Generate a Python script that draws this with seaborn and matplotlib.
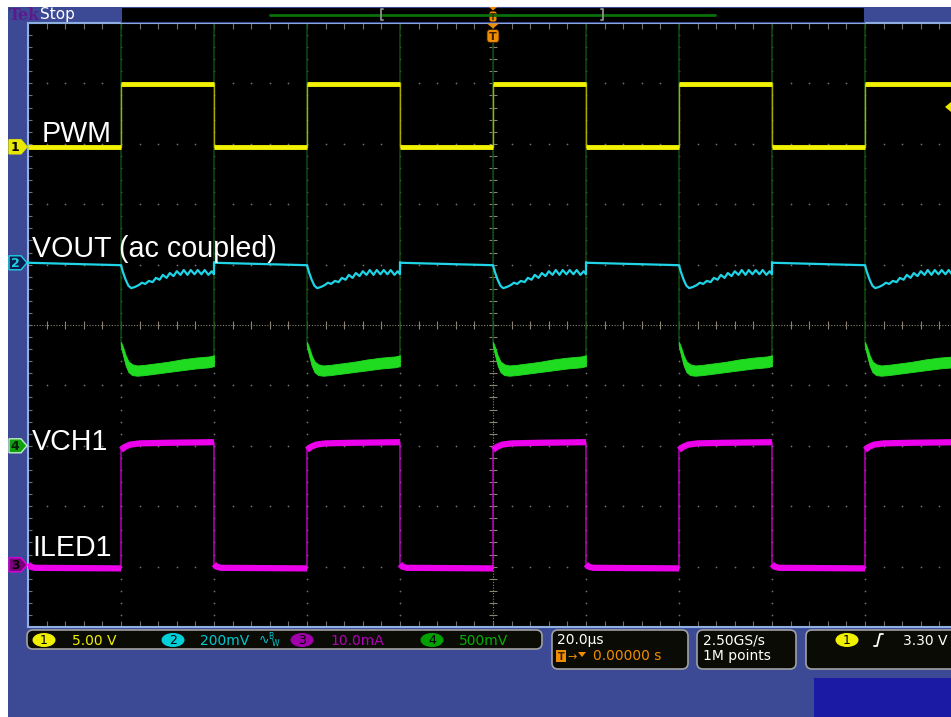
import numpy as np
import pandas as pd
import seaborn as sns
import matplotlib.pyplot as plt
from matplotlib.patches import Rectangle, Polygon, FancyBboxPatch, Ellipse

W, H = 951, 717

# horizontal: microseconds (20 us/div, trigger at 0), vertical: screen divisions
pulse_us = 20
t_low_start = [-100, -60, -20, 20, 60]   # PWM falls here, rises pulse_us later

# ch1 PWM
pwm_on_t, pwm_on_v = [0, 20], [3.99, 3.99]
pwm_off_t, pwm_off_v = [0, 20], [2.95, 2.95]

# ch2 VOUT (ac coupled), one switching period
vout_on_t = [0, 0.4, 1.0, 1.6, 2.2, 3.0, 3.8, 4.5, 5.2, 6.0, 6.8, 7.5, 8.3, 9.0, 9.8,
             10.5, 11.3, 12.0, 12.8, 13.5, 14.3, 15.0, 15.8, 16.5, 17.3, 18.0, 18.8, 19.5, 20.0]
vout_on_v = [0.99, 0.88, 0.75, 0.65, 0.61, 0.63, 0.66, 0.70, 0.68, 0.73, 0.71, 0.78, 0.75, 0.83, 0.78,
             0.86, 0.81, 0.89, 0.83, 0.91, 0.83, 0.91, 0.84, 0.91, 0.84, 0.91, 0.83, 0.89, 0.84]
vout_off_t = [0, 0.3, 20]
vout_off_v = [1.04, 1.03, 0.99]

# ch4 VCH1 (goes off the top of the screen while PWM is low)
vch_on_t = [0, 0.5, 1, 1.6, 2.4, 3.5, 5, 7, 10, 13, 16, 19, 20]
vch_on_v = [-0.33, -0.45, -0.58, -0.68, -0.73, -0.745, -0.73, -0.71, -0.68, -0.645, -0.61, -0.60, -0.58]
vch_top = [-0.28, -0.38, -0.50, -0.60, -0.65, -0.67, -0.66, -0.64, -0.61, -0.57, -0.54, -0.52, -0.50]
vch_bot = [-0.36, -0.52, -0.67, -0.78, -0.83, -0.84, -0.83, -0.81, -0.78, -0.75, -0.72, -0.70, -0.68]
vch_off_t, vch_off_v = [0, 20], [6, 6]

# ch3 ILED1
iled_on_t = [0, 0.8, 2, 4, 10, 20]
iled_on_v = [-2.07, -2.02, -1.98, -1.96, -1.95, -1.94]
iled_off_t = [0, 0.5, 1.5, 20]
iled_off_v = [-3.96, -4.0, -4.02, -4.03]

ch_tags = ['1', '2', '4', '3']
ch_ground = [2.95, 1.03, -2.0, -3.97]
trace_names = ['PWM', 'VOUT (ac coupled)', 'VCH1', 'ILED1']
status_ch = ['1', '2', '3', '4']
status_scale = ['5.00 V', '200mV', '10.0mA', '500mV']
trig_level = 3.61


def build(on_t, on_v, off_t, off_v):
    rows = []
    for k, f in enumerate(t_low_start):
        rows += [(f + x, v, 2 * k) for x, v in zip(off_t, off_v)]
        r = f + pulse_us
        rows += [(r + x, v, 2 * k + 1) for x, v in zip(on_t, on_v)]
    return pd.DataFrame(rows, columns=['t', 'v', 'seg'])


pwm = build(pwm_on_t, pwm_on_v, pwm_off_t, pwm_off_v)
vout = build(vout_on_t, vout_on_v, vout_off_t, vout_off_v)
vch = build(vch_on_t, vch_on_v, vch_off_t, vch_off_v)
iled = build(iled_on_t, iled_on_v, iled_off_t, iled_off_v)

sns.set_theme(style='dark')
plt.rcParams['font.family'] = ['DejaVu Sans']

fig = plt.figure(figsize=(W / 100, H / 100), dpi=100, facecolor='white')

# blue frame behind everything
bg = fig.add_axes([0, 0, 1, 1], zorder=0)
bg.set_xlim(0, W)
bg.set_ylim(H, 0)
bg.axis('off')
bg.add_patch(Rectangle((8, 7), W - 8, H - 7, color='#3c4a96', lw=0))
bg.add_patch(Rectangle((814, 678), W - 814, H - 678, color='#1a1aa5', lw=0))

ax = fig.add_axes([28 / W, (H - 627) / H, (W - 28) / W, (627 - 23) / H], zorder=1)
ax.set_facecolor('black')
ax.grid(False)
ax.set_xlim(-100, 98.5)
ax.set_ylim(-5, 5)

# graticule
minor_x = np.arange(-100, 100.1, 4)
minor_y = np.arange(-5, 5.01, 0.2)
gcol = '#707070'
for gx in range(-80, 100, 20):
    if gx != 0:
        ax.scatter([gx] * len(minor_y), minor_y, s=1.6, color=gcol, lw=0, zorder=1)
for gy in range(-4, 5):
    if gy != 0:
        ax.scatter(minor_x, [gy] * len(minor_x), s=1.6, color=gcol, lw=0, zorder=1)
ax.axhline(0, ls=(0, (1, 1.5)), color='#8a8272', lw=0.8, zorder=1)
ax.axvline(0, ls=(0, (1, 1.5)), color='#8a8272', lw=0.8, zorder=1)
ax.vlines(minor_x, -0.07, 0.07, color='#8a8272', lw=0.8, zorder=1)
ax.hlines(minor_y, -0.9, 0.9, color='#8a8272', lw=0.8, zorder=1)
ax.vlines(minor_x, 4.9, 5, color=gcol, lw=0.8, zorder=1)
ax.vlines(minor_x, -5, -4.9, color=gcol, lw=0.8, zorder=1)
ax.hlines(minor_y, -100, -99.2, color=gcol, lw=0.8, zorder=1)

# traces
sns.lineplot(data=vch, x='t', y='v', sort=False, estimator=None, color='#0f4a0f', lw=1.1, ax=ax, zorder=2)
for k in vch.seg.unique():
    if k % 2 == 1:
        r = t_low_start[k // 2] + pulse_us
        ax.fill_between([r + x for x in vch_on_t], vch_bot, vch_top, color='#20dc20', lw=0.6, zorder=3)
sns.lineplot(data=vout, x='t', y='v', sort=False, estimator=None, color='#1ed4e6', lw=1.6, ax=ax, zorder=4)
sns.lineplot(data=pwm, x='t', y='v', sort=False, estimator=None, color='#a8a800', lw=1, ax=ax, zorder=4)
sns.lineplot(data=pwm, x='t', y='v', units='seg', estimator=None, color='#f2f200', lw=3.5,
             solid_capstyle='butt', ax=ax, zorder=5)
sns.lineplot(data=iled, x='t', y='v', sort=False, estimator=None, color='#c800c8', lw=1, ax=ax, zorder=4)
sns.lineplot(data=iled, x='t', y='v', units='seg', estimator=None, color='#ec00ec', lw=4.5,
             solid_capstyle='butt', ax=ax, zorder=5)

ax.set_xticks([])
ax.set_yticks([])
ax.set_xlabel('')
ax.set_ylabel('')
for s in ['top', 'left', 'bottom']:
    ax.spines[s].set_color('#8eaee0')
    ax.spines[s].set_linewidth(1.5)
ax.spines['right'].set_visible(False)


def ypx(v):
    return H - ax.transData.transform((0, v))[1]


ov = fig.add_axes([0, 0, 1, 1], zorder=2)
ov.set_xlim(0, W)
ov.set_ylim(H, 0)
ov.axis('off')
ov.patch.set_alpha(0)

# trace labels
lab_xy = [(42, 142), (32, 257), (32, 450), (32, 556)]
for name, (lx, ly) in zip(trace_names, lab_xy):
    ov.text(lx, ly, name, color='white', fontsize=20.6, family=['Liberation Sans', 'DejaVu Sans'],
            va='baseline', ha='left')

# channel tags on the left border
tag_style = {'1': ('#e8e800', '#e8e800', 'black'),
             '2': ('#0a1e50', '#20d0e0', '#20d0e0'),
             '4': ('#10a010', '#c0f0c0', '#082008'),
             '3': ('#7a007a', '#e000e0', 'black')}
for tag, g in zip(ch_tags, ch_ground):
    y = ypx(g)
    fc, ec, tc = tag_style[tag]
    ov.add_patch(Polygon([(9, y - 7), (21, y - 7), (27, y), (21, y + 7), (9, y + 7)],
                         closed=True, fc=fc, ec=ec, lw=1))
    ov.text(15, y + 0.5, tag, color=tc, fontsize=9, fontweight='bold', ha='center', va='center')

# trigger level arrow at right edge
yt = ypx(trig_level)
ov.add_patch(Polygon([(W, yt - 5), (945, yt), (W, yt + 5)], closed=True, fc='#e8e800', ec='none'))

# header
ov.text(9, 20, 'Tek', color='#5c1a8c', fontsize=11.5, fontweight='bold', family='DejaVu Serif', va='baseline')
ov.text(40, 19.5, 'Stop', color='white', fontsize=11, va='baseline')
ov.add_patch(Rectangle((121, 7), 864 - 121, 14.5, fc='black', ec='#3c4a96', lw=0.8))
ov.plot([270, 715], [14.5, 14.5], color='#0a700a', lw=2)
ov.plot([383, 381, 381, 383], [9, 9, 20, 20], color='#909090', lw=1.3)
ov.plot([601, 603, 603, 601], [9, 9, 20, 20], color='#909090', lw=1.3)
orange = '#f08c00'
ov.add_patch(Polygon([(489, 7), (497, 7), (493, 10.5)], closed=True, fc=orange, ec='none'))
ov.add_patch(FancyBboxPatch((489.5, 11.5), 7, 10, boxstyle='round,pad=0,rounding_size=2', fc=orange, ec='none'))
ov.text(493, 17, 'T', color='#4a2800', fontsize=6, ha='center', va='center', fontweight='bold')
ov.add_patch(Polygon([(487, 23.5), (499, 23.5), (493, 28.5)], closed=True, fc=orange, ec='none'))
ov.add_patch(FancyBboxPatch((487, 29.5), 12, 13, boxstyle='round,pad=0,rounding_size=3', fc=orange, ec='#3a2000', lw=0.6))
ov.text(493, 36.5, 'T', color='#3a2000', fontsize=8, ha='center', va='center', fontweight='bold')

# status bar
box_kw = dict(boxstyle='round,pad=0,rounding_size=6', fc='#0b0b06', ec='#a0a0a0', lw=1.2)
ov.add_patch(FancyBboxPatch((27, 630), 515, 19, **box_kw))
ov.add_patch(FancyBboxPatch((552, 630), 136, 39, **box_kw))
ov.add_patch(FancyBboxPatch((697, 630), 99, 39, **box_kw))
ov.add_patch(FancyBboxPatch((806, 630), 170, 39, **box_kw))

ch_fill = {'1': '#f0f000', '2': '#00d0d8', '3': '#a000a8', '4': '#00a000'}
ch_text = {'1': '#f0f000', '2': '#00c8d0', '3': '#b000b8', '4': '#00b000'}
circ_x = [44, 173, 302, 432]
scale_x = [72, 200, 330, 459]
for ch, sc, cx, sx in zip(status_ch, status_scale, circ_x, scale_x):
    ov.add_patch(Ellipse((cx, 640), 23, 14, fc=ch_fill[ch], ec='none'))
    ov.text(cx, 640.5, ch, color='black', fontsize=9, ha='center', va='center')
    ov.text(sx, 645, sc, color=ch_text[ch], fontsize=10, va='baseline')
ov.text(259, 644, '∿', color='#00c8d0', fontsize=9, va='baseline')
ov.text(268, 639, 'B', color='#00c8d0', fontsize=5.5, va='baseline')
ov.text(272, 646, 'W', color='#00c8d0', fontsize=5.5, va='baseline')

ov.text(557, 644, '20.0µs', color='white', fontsize=10, va='baseline')
ov.add_patch(Rectangle((556, 650), 10, 12, fc=orange, ec='none'))
ov.text(561, 656.5, 'T', color='#3a2000', fontsize=7, ha='center', va='center', fontweight='bold')
ov.text(567, 660, '→', color=orange, fontsize=8, va='baseline')
ov.add_patch(Polygon([(578, 652), (586, 652), (582, 657)], closed=True, fc=orange, ec='none'))
ov.text(593, 660, '0.00000 s', color=orange, fontsize=10, va='baseline')

ov.text(703, 644, '2.50GS/s', color='white', fontsize=10, va='baseline')
ov.text(703, 660, '1M points', color='white', fontsize=10, va='baseline')

ov.add_patch(Ellipse((847, 640), 23, 14, fc='#f0f000', ec='none'))
ov.text(847, 640.5, '1', color='black', fontsize=9, ha='center', va='center')
ov.plot([874, 877, 880, 883], [646, 646, 634, 634], color='white', lw=1.3)
ov.text(903, 645, '3.30 V', color='white', fontsize=10, va='baseline')

fig.savefig('out.png', dpi=100, facecolor='white')
